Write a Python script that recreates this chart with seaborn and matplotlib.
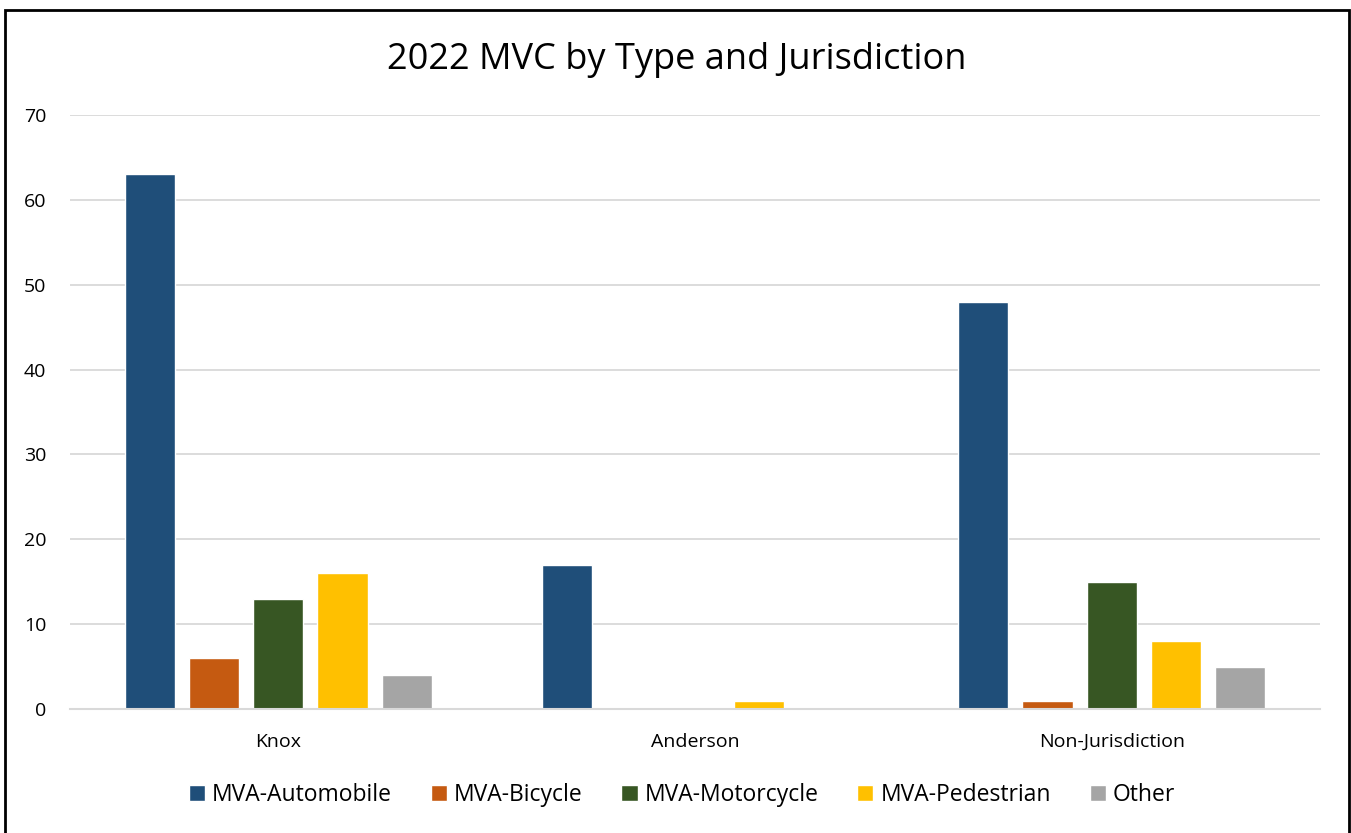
import matplotlib
matplotlib.use('Agg')
import pandas as pd
import seaborn as sns
import matplotlib.pyplot as plt
from matplotlib.patches import Rectangle

# Datos del grafico
jurisdicciones = ['Knox', 'Anderson', 'Non-Jurisdiction']
tipos = ['MVA-Automobile', 'MVA-Bicycle', 'MVA-Motorcycle', 'MVA-Pedestrian', 'Other']
automobile = [63, 17, 48]
bicycle = [6, 0, 1]
motorcycle = [13, 0, 15]
pedestrian = [16, 1, 8]
other = [4, 0, 5]
colores = ['#1F4E79', '#C55A11', '#375623', '#FFC000', '#A5A5A5']

series = [automobile, bicycle, motorcycle, pedestrian, other]
filas = []
for tipo, valores in zip(tipos, series):
    for j, v in zip(jurisdicciones, valores):
        filas.append({'Jurisdiction': j, 'Type': tipo, 'Count': v})
df = pd.DataFrame(filas)

sns.set_theme(style='white')
plt.rcParams['font.family'] = ['Open Sans', 'DejaVu Sans']
plt.rcParams['text.color'] = 'black'

fig = plt.figure(figsize=(13.51, 8.33), dpi=100)
ax = fig.add_axes([70 / 1351, 1 - 709 / 833, 1250 / 1351, 594 / 833])

sns.barplot(data=df, x='Jurisdiction', y='Count', hue='Type', hue_order=tipos,
            order=jurisdicciones, palette=colores, width=0.77, gap=0.22,
            saturation=1, ax=ax, legend=True)

ax.set_ylim(0, 70)
ax.set_yticks(range(0, 71, 10))
ax.set_xlim(-0.5, 2.5)
ax.yaxis.grid(True, color='#D9D9D9', linewidth=1.3)
ax.set_axisbelow(True)
for lado in ['top', 'right', 'left']:
    ax.spines[lado].set_visible(False)
ax.spines['bottom'].set_color('#D9D9D9')
ax.spines['bottom'].set_linewidth(1.5)
ax.tick_params(axis='both', length=0, labelsize=14, colors='black')
ax.tick_params(axis='y', pad=17)
ax.tick_params(axis='x', pad=17)
ax.set_xlabel('')
ax.set_ylabel('')

fig.text(677 / 1351, 1 - 60 / 833, '2022 MVC by Type and Jurisdiction',
         ha='center', va='center', fontsize=26, color='black')

handles, labels = ax.get_legend_handles_labels()
ax.legend(handles, labels, loc='center', bbox_to_anchor=(682 / 1351, 1 - 795 / 833),
          bbox_transform=fig.transFigure, ncol=5, frameon=False, fontsize=16.5,
          handlelength=0.7, handleheight=0.7, handletextpad=0.3,
          columnspacing=1.7, labelcolor='black')

# Marco exterior
fig.patches.append(Rectangle((5.5 / 1351, -0.05), 1343.5 / 1351, 1.05 - 10.5 / 833,
                             transform=fig.transFigure, fill=False,
                             edgecolor='black', linewidth=2))

plt.savefig('out.png', dpi=100)
